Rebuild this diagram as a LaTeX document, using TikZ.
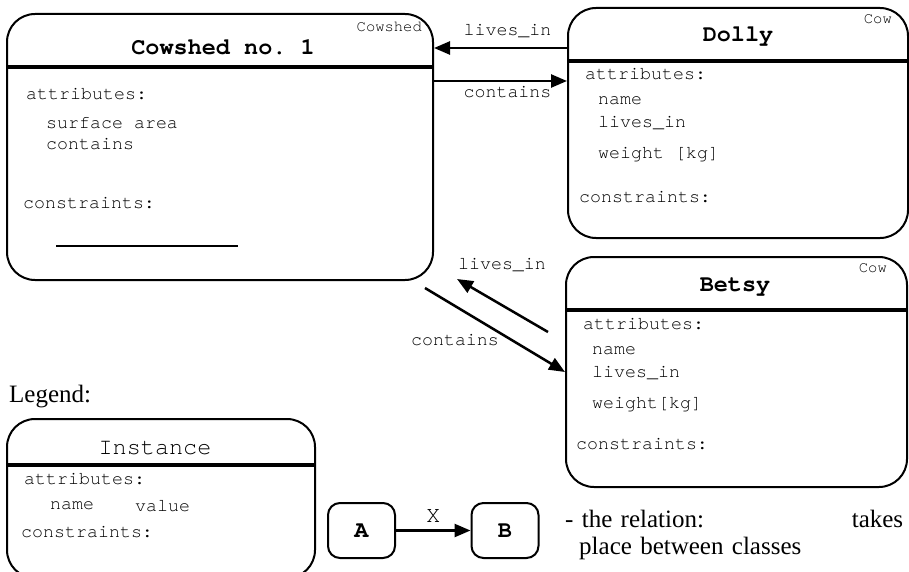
\documentclass[tikz,border=0pt]{standalone}
\usepackage{fontspec}
\setmainfont{Liberation Serif}
\setmonofont{texgyrecursor}[Extension=.otf,UprightFont=*-regular,BoldFont=*-bold]
\usetikzlibrary{arrows.meta,positioning}
\tikzset{
    objbox/.style={draw,line width=2pt,rounded corners=28pt,inner sep=0pt},
    smallbox/.style={draw,line width=2pt,rounded corners=12pt,inner sep=0pt,
        minimum width=67pt,minimum height=55pt,font=\fontsize{23.5}{26}\selectfont\ttfamily\bfseries},
    headline/.style={line width=4pt},
    relarrow/.style={line width=2.5pt,-{Triangle[length=16pt,width=13pt]}},
    title/.style={font=\fontsize{23.5}{26}\selectfont\ttfamily\bfseries,inner sep=0pt},
    kind/.style={font=\fontsize{15.5}{17}\selectfont\ttfamily,inner sep=0pt,anchor=east},
    attr/.style={font=\fontsize{18.3}{20}\selectfont\ttfamily,inner sep=0pt,anchor=west},
    rellabel/.style={font=\fontsize{18.3}{20}\selectfont\ttfamily,inner sep=0pt}
}
\begin{document}
\begin{tikzpicture}[x=1pt,y=-1pt]
    \useasboundingbox (0,0) rectangle (909,572);
    \clip (0,0) rectangle (909,572);

    \node[objbox,minimum width=426pt,minimum height=266pt] (cowshed) at (220,147) {};
    \draw[headline] ([yshift=-54pt]cowshed.north west) -- ([yshift=-54pt]cowshed.north east);
    \node[title] (cowshedname) at (223,47) {Cowshed no. 1};
    \node[kind] (cowshedkind) at (422,27) {Cowshed};
    \node[attr] (cowshedattr) at (26,94) {attributes:};
    \node[attr] (cowshedarea) at (46,123) {surface area};
    \node[attr] (cowshedcont) at (46,144) {contains};
    \node[attr] (cowshedcons) at (23,203) {constraints:};
    \draw[line width=2pt] (56,246) -- (238,246);

    \node[objbox,minimum width=340pt,minimum height=230pt] (dolly) at (738,123) {};
    \draw[headline] ([yshift=-54pt]dolly.north west) -- ([yshift=-54pt]dolly.north east);
    \node[title] (dollyname) at (738,37) {Dolly};
    \node[kind] (dollykind) at (892,19) {Cow};
    \node[attr] (dollyattr) at (585,74) {attributes:};
    \node[attr] (dollyname2) at (598,101) {name};
    \node[attr] (dollylives) at (598,123) {lives\_in};
    \node[attr] (dollyweight) at (598,155) {weight [kg]};
    \node[attr] (dollycons) at (579,197) {constraints:};

    \node[objbox,minimum width=341pt,minimum height=230pt] (betsy) at (736.5,372) {};
    \draw[headline] ([yshift=-54pt]betsy.north west) -- ([yshift=-54pt]betsy.north east);
    \node[title] (betsyname) at (735,287) {Betsy};
    \node[kind] (betsykind) at (887,268) {Cow};
    \node[attr] (betsyattr) at (583,324) {attributes:};
    \node[attr] (betsyname2) at (592,351) {name};
    \node[attr] (betsylives) at (592,373) {lives\_in};
    \node[attr] (betsyweight) at (592,405) {weight[kg]};
    \node[attr] (betsycons) at (576,444) {constraints:};

    \draw[relarrow] ([yshift=75pt]dolly.west) -- ([yshift=99pt]cowshed.east)
        node[rellabel,midway,yshift=17pt,xshift=7pt] {lives\_in};
    \draw[relarrow] ([yshift=66pt]cowshed.east) -- ([yshift=42pt]dolly.west)
        node[rellabel,midway,yshift=-11pt,xshift=7pt] {contains};
    \draw[relarrow] ([shift={(-17pt,40pt)}]betsy.west) -- ([shift={(23pt,2pt)}]cowshed.south east);
    \node[rellabel] (betsyliveslbl) at (502,265) {lives\_in};
    \draw[relarrow] ([shift={(-9pt,-7pt)}]cowshed.south east) -- (betsy.west);
    \node[rellabel] (betsycontlbl) at (455,340) {contains};

    \node[anchor=base west,inner sep=0pt,font=\fontsize{25}{27}\selectfont] (legend) at (9,402) {Legend:};
    \node[objbox,minimum width=308pt,minimum height=159pt] (instance) at (161,498.5) {};
    \draw[headline] ([yshift=-47pt]instance.north west) -- ([yshift=-47pt]instance.north east);
    \node[font=\fontsize{23.5}{26}\selectfont\ttfamily,inner sep=0pt] (instname) at (155,448) {Instance};
    \node[attr] (instattr) at (24,479) {attributes:};
    \node[attr] (instname2) at (50,506) {name};
    \node[attr] (instvalue) at (135,506) {value};
    \node[attr] (instcons) at (21,532) {constraints:};

    \node[smallbox] (a) at (361.5,530.5) {A};
    \node[smallbox] (b) at (505,530.5) {B};
    \draw[relarrow] (a) -- (b)
        node[font=\fontsize{23}{25}\selectfont\ttfamily,inner sep=0pt,midway,yshift=14pt] {X};
    \node[anchor=north west,inner sep=0pt,text width=338pt,align=left,
        font=\fontsize{25}{27}\selectfont] (relnote) at (565,510)
        {- the relation:\hfill takes\\\hspace*{14pt}place between classes};
\end{tikzpicture}
\end{document}
